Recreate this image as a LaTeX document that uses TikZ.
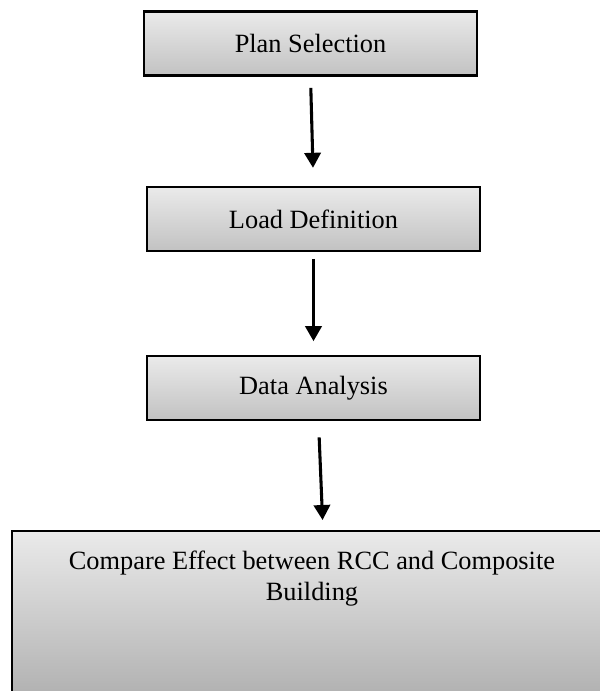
\documentclass[tikz,border=0pt]{standalone}
\usepackage{fontspec}
\setmainfont{Liberation Serif}
\usetikzlibrary{arrows.meta,calc,positioning}
\definecolor{boxtop}{HTML}{EAEAEA}
\definecolor{boxbottom}{HTML}{C2C2C2}
\tikzset{
  stepbox/.style={draw=black,line width=1pt,top color=boxtop,bottom color=boxbottom,
    minimum width=5.328cm,minimum height=1.024cm,inner sep=0pt},
  flowarrow/.style={-{Triangle[width=0.26cm,length=0.24cm]},line width=1.4pt}
}

\begin{document}
\begin{tikzpicture}[x=0.016cm,y=-0.016cm,font=\fontsize{12}{14}\selectfont]
  \clip (0,0) rectangle (600,691);

  % Steps
  \node[stepbox] (plan) at (310.5,43.5) {Plan Selection};
  \node[stepbox] (load) at (313.5,219) {Load Definition};
  \node[stepbox] (data) at (313.5,388) {Data Analysis};
  \node[stepbox,anchor=north west,minimum width=9.6cm,minimum height=3.2cm,
    bottom color=boxbottom!85!black] (compare) at (11,530) {};
  \node[below=0.33cm of compare.north,align=center,inner sep=0pt]
    (comparetext) {Compare Effect between RCC and Composite\\Building};

  % Arrows
  \draw[flowarrow,shorten <=0.18cm,shorten >=0.29cm] (plan.south) -- (load.north);
  \draw[flowarrow,shorten <=0.11cm,shorten >=0.22cm] (load.south) -- (data.north);
  \draw[flowarrow,shorten <=0.26cm,shorten >=0.16cm]
    ($(data.south)+(5,0)$) -- ($(compare.north)+(11,0)$);
\end{tikzpicture}
\end{document}
